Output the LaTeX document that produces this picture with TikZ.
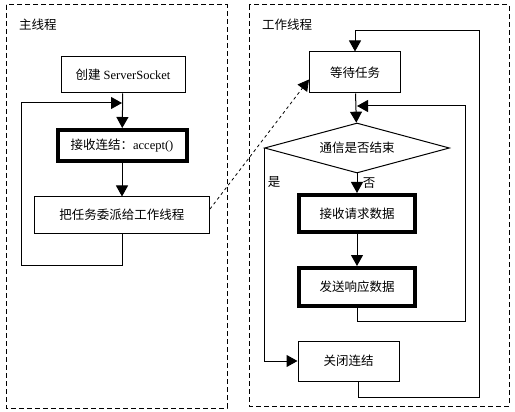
\documentclass[tikz,border=0pt]{standalone}
\usepackage{fontspec}
\setmainfont{Liberation Serif}
\newfontfamily\cjk{Noto Sans CJK SC}
\usetikzlibrary{arrows.meta,shapes.geometric}

\begin{document}
\begin{tikzpicture}[x=1pt,y=-1pt,
    txt/.style={font=\fontsize{12.5}{15}\selectfont},
    box/.style={txt,draw,line width=1pt,inner sep=0pt},
    heavy/.style={box,line width=4pt},
    frame/.style={draw,line width=1pt,dash pattern=on 5pt off 3pt},
    arr/.style={line width=1pt,-{Triangle[length=11pt,width=12pt]}}]

  \useasboundingbox (0,0) rectangle (515,412);

  % the two thread frames
  \draw[frame] (6,5) rectangle (227,408);
  \draw[frame] (249,5) rectangle (509,406);
  \node[txt] (mainlbl) at (38,25) {\cjk 主线程};
  \node[txt] (worklbl) at (287,25) {\cjk 工作线程};

  % main thread
  \node[box,minimum width=124,minimum height=36] (create) at (123,75) {{\cjk 创建} ServerSocket};
  \node[heavy,minimum width=129,minimum height=31] (accept) at (122,145.5) {{\cjk 接收连结：}accept()};
  \node[box,minimum width=175,minimum height=36] (dispatch) at (122,215) {\cjk 把任务委派给工作线程};
  \coordinate (mbl) at (21,265);
  \coordinate (mjoin) at (122,103);

  \draw[arr] (create) -- (accept);
  \draw[arr] (accept) -- (dispatch);
  \draw[arr] (dispatch.south) |- (mbl) |- (mjoin);

  % worker thread
  \node[box,minimum width=91,minimum height=41] (wait) at (355,72.5) {\cjk 等待任务};
  \node[box,diamond,shape aspect=3.7,minimum width=185,minimum height=50] (decide) at (357,148) {\cjk 通信是否结束};
  \node[heavy,minimum width=116,minimum height=37] (recv) at (357,213.5) {\cjk 接收请求数据};
  \node[heavy,minimum width=116,minimum height=38] (send) at (357,287) {\cjk 发送响应数据};
  \node[box,minimum width=101,minimum height=40] (close) at (348.5,361) {\cjk 关闭连结};
  \coordinate (ibr) at (465,321);
  \coordinate (ijoin) at (357,106);
  \coordinate (obr) at (479,397);
  \coordinate (otop) at (355,31);

  \draw[arr] (wait) -- (decide);
  \draw[arr] (decide) -- node[txt,right=2pt] (nolbl) {\cjk 否} (recv);
  \draw[arr] (recv) -- (send);
  \draw[arr] (decide.west) |- node[txt,pos=0.08,right=0pt] (yeslbl) {\cjk 是} (close.west);
  \draw[arr] (send.south) |- (ibr) |- (ijoin);
  \draw[arr] ([xshift=9.5pt]close.south) |- (obr) |- (otop) -- (wait.north);

  % hand-off between threads
  \draw[line width=0.8pt,dash pattern=on 3pt off 3pt,-{Triangle[length=11pt,width=12pt]}]
    ([yshift=6pt]dispatch.east) -- ([yshift=-7pt]wait.west);
\end{tikzpicture}
\end{document}
